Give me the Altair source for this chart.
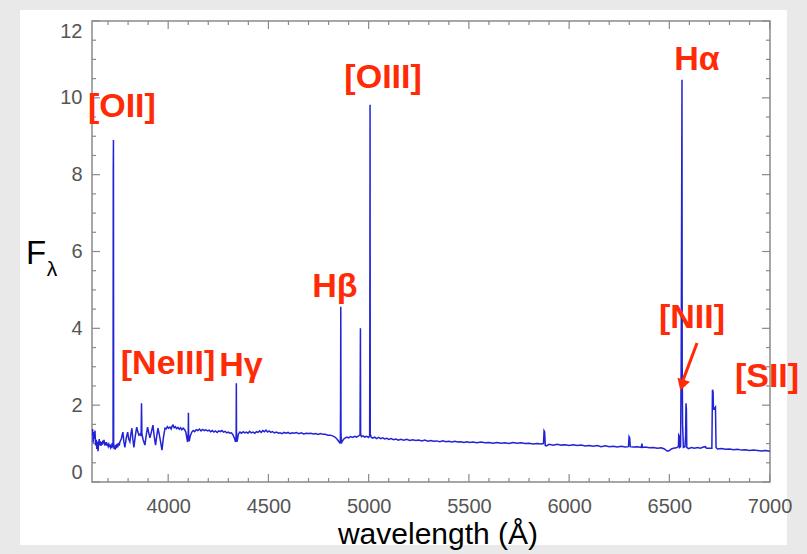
import altair as alt
import pandas as pd

# ---- spectrum (wavelength in Angstrom, flux F_lambda) ----
wavelength = [
    3620, 3623, 3626, 3629, 3632, 3635, 3638, 3641, 3644, 3647, 3650, 3653, 3656, 3659,
    3662, 3665, 3668, 3671, 3674, 3677, 3680, 3683, 3686, 3689, 3692, 3695, 3698, 3701,
    3704, 3707, 3710, 3713, 3716, 3719, 3722, 3725, 3726, 3727, 3728, 3730, 3733, 3736,
    3739, 3742, 3745, 3748, 3752, 3756, 3759, 3766, 3774, 3779, 3784, 3791, 3798, 3803,
    3809, 3814, 3819, 3824, 3829, 3836, 3843, 3849, 3854, 3860, 3865, 3867, 3869, 3875,
    3884, 3890, 3897, 3903, 3909, 3916, 3924, 3930, 3937, 3943, 3949, 3955, 3962, 3969,
    3976, 3984, 3990, 3996, 4002, 4009, 4015, 4020, 4024, 4030, 4036, 4042, 4049, 4055,
    4062, 4068, 4075, 4082, 4088, 4093, 4097, 4100, 4101, 4102, 4105, 4110, 4118, 4125,
    4132, 4140, 4148, 4156, 4164, 4172, 4180, 4188, 4196, 4204, 4212, 4220, 4228, 4236,
    4244, 4252, 4260, 4268, 4276, 4284, 4292, 4300, 4308, 4316, 4324, 4332, 4336, 4339,
    4340, 4341, 4344, 4350, 4358, 4366, 4374, 4382, 4390, 4398, 4406, 4414, 4423, 4432,
    4440, 4448, 4456, 4464, 4472, 4480, 4488, 4496, 4504, 4512, 4520, 4530, 4540, 4550,
    4558, 4568, 4578, 4588, 4598, 4608, 4618, 4628, 4640, 4652, 4664, 4676, 4688, 4700,
    4712, 4724, 4736, 4748, 4760, 4772, 4784, 4796, 4808, 4820, 4832, 4842, 4850, 4856,
    4859, 4860, 4861, 4862, 4864, 4868, 4876, 4884, 4892, 4900, 4910, 4920, 4930, 4940,
    4950, 4957, 4958, 4959, 4960, 4964, 4972, 4980, 4990, 5000, 5005, 5006, 5007, 5008,
    5012, 5020, 5030, 5040, 5050, 5060, 5070, 5080, 5090, 5100, 5112, 5124, 5136, 5148,
    5160, 5175, 5190, 5205, 5220, 5235, 5250, 5265, 5280, 5295, 5310, 5325, 5340, 5355,
    5370, 5385, 5400, 5415, 5430, 5445, 5460, 5475, 5490, 5505, 5520, 5540, 5560, 5580,
    5600, 5620, 5640, 5660, 5680, 5700, 5720, 5740, 5760, 5780, 5800, 5820, 5840, 5860,
    5872, 5875, 5878, 5881, 5886, 5900, 5920, 5940, 5960, 5980, 6000, 6020, 6040, 6060,
    6080, 6100, 6120, 6140, 6160, 6180, 6200, 6220, 6240, 6260, 6280, 6296, 6299, 6302,
    6305, 6320, 6340, 6360, 6363, 6366, 6380, 6400, 6420, 6440, 6460, 6475, 6490, 6500,
    6510, 6520, 6535, 6545, 6547, 6549, 6551, 6556, 6559, 6562, 6563, 6564, 6566, 6570,
    6578, 6581, 6583, 6585, 6587, 6595, 6610, 6625, 6640, 6655, 6670, 6680, 6685, 6700,
    6712, 6715, 6718, 6720, 6726, 6730, 6733, 6740, 6760, 6780, 6800, 6820, 6840, 6860,
    6880, 6900, 6920, 6940, 6960, 6980, 7002,
]
flux = [
    1.22, 1.38, 1.02, 1.30, 1.12, 1.34, 0.95, 1.10, 0.86, 1.05, 0.80, 0.98, 1.12, 0.96,
    1.06, 0.94, 1.04, 0.97, 1.08, 1.00, 1.10, 0.95, 1.03, 0.96, 1.04, 0.94, 1.00, 0.93,
    0.98, 0.91, 0.97, 0.90, 0.95, 0.88, 0.96, 0.92, 8.13, 8.90, 1.02, 0.86, 0.95, 0.84,
    0.97, 0.88, 0.99, 0.90, 1.02, 0.95, 1.04, 1.12, 1.30, 1.05, 0.90, 1.15, 1.30, 1.12,
    1.05, 1.25, 1.40, 1.10, 0.90, 1.20, 1.43, 1.30, 1.22, 1.25, 1.20, 2.05, 1.25, 1.10,
    0.96, 1.20, 1.43, 1.28, 1.15, 1.30, 1.48, 1.20, 0.96, 1.20, 1.40, 1.25, 1.05, 0.83,
    1.15, 1.40, 1.38, 1.44, 1.40, 1.43, 1.38, 1.46, 1.48, 1.41, 1.44, 1.39, 1.42, 1.37,
    1.41, 1.36, 1.40, 1.36, 1.30, 1.15, 1.04, 1.30, 1.80, 1.20, 1.06, 1.20, 1.30, 1.34,
    1.31, 1.36, 1.34, 1.38, 1.33, 1.37, 1.34, 1.36, 1.33, 1.35, 1.31, 1.34, 1.30, 1.33,
    1.29, 1.33, 1.31, 1.34, 1.30, 1.32, 1.28, 1.30, 1.27, 1.28, 1.22, 1.12, 1.04, 1.20,
    2.57, 1.10, 1.05, 1.25, 1.30, 1.27, 1.31, 1.28, 1.30, 1.27, 1.32, 1.28, 1.30, 1.27,
    1.31, 1.29, 1.33, 1.29, 1.34, 1.31, 1.35, 1.30, 1.33, 1.29, 1.31, 1.28, 1.30, 1.27,
    1.28, 1.26, 1.29, 1.27, 1.29, 1.26, 1.28, 1.27, 1.29, 1.26, 1.28, 1.25, 1.27, 1.26,
    1.27, 1.25, 1.26, 1.24, 1.26, 1.24, 1.24, 1.22, 1.22, 1.20, 1.17, 1.12, 1.06, 1.02,
    1.10, 2.30, 4.56, 1.30, 1.00, 1.06, 1.12, 1.15, 1.17, 1.15, 1.18, 1.16, 1.19, 1.17,
    1.20, 1.22, 2.60, 4.00, 1.25, 1.18, 1.20, 1.17, 1.19, 1.16, 1.20, 4.40, 9.82, 1.25,
    1.17, 1.14, 1.17, 1.13, 1.16, 1.13, 1.15, 1.12, 1.14, 1.11, 1.13, 1.10, 1.12, 1.09,
    1.11, 1.09, 1.11, 1.08, 1.10, 1.08, 1.09, 1.07, 1.09, 1.06, 1.08, 1.06, 1.07, 1.05,
    1.07, 1.05, 1.06, 1.04, 1.06, 1.04, 1.05, 1.03, 1.05, 1.03, 1.04, 1.02, 1.04, 1.02,
    1.03, 1.01, 1.03, 1.01, 1.02, 1.00, 1.03, 1.01, 1.02, 1.00, 1.01, 0.99, 1.00, 0.99,
    1.00, 1.33, 1.30, 0.95, 0.94, 0.98, 0.96, 0.98, 0.96, 0.97, 0.95, 0.97, 0.95, 0.96,
    0.94, 0.95, 0.93, 0.95, 0.92, 0.94, 0.92, 0.93, 0.91, 0.93, 0.91, 0.92, 1.18, 1.15,
    0.92, 0.91, 0.92, 0.90, 1.00, 0.90, 0.91, 0.89, 0.90, 0.88, 0.89, 0.86, 0.80, 0.82,
    0.86, 0.88, 0.89, 0.92, 1.22, 1.20, 0.90, 0.92, 3.18, 8.57, 10.47, 3.10, 1.50, 0.90,
    0.92, 1.20, 2.05, 1.90, 0.90, 0.87, 0.90, 0.88, 0.90, 0.88, 0.91, 0.92, 0.88, 0.88,
    0.88, 2.40, 2.35, 1.90, 1.92, 1.95, 0.90, 0.86, 0.87, 0.85, 0.86, 0.84, 0.85, 0.83,
    0.84, 0.82, 0.83, 0.82, 0.81, 0.82, 0.80,
]

# ---- axis ticks ----
x_major = [4000, 4500, 5000, 5500, 6000, 6500, 7000]
x_minor = [3700, 3800, 3900, 4100, 4200, 4300, 4400, 4600, 4700, 4800, 4900,
           5100, 5200, 5300, 5400, 5600, 5700, 5800, 5900, 6100, 6200, 6300, 6400,
           6600, 6700, 6800, 6900]
y_major = [0, 2, 4, 6, 8, 10, 12]
y_minor = [0.5, 1, 1.5, 2.5, 3, 3.5, 4.5, 5, 5.5, 6.5, 7, 7.5, 8.5, 9, 9.5,
           10.5, 11, 11.5]

# ---- line annotations ----
line_labels = ["[OII]", "[OIII]", "Hα", "Hβ", "[NeIII]", "Hγ", "[NII]", "[SII]"]
label_wl = [3769, 5072, 6638, 4832, 3999, 4363, 6613, 6987]
label_fx = [9.76, 10.52, 10.98, 5.08, 3.07, 3.02, 4.27, 2.73]

arrow_from = [6638, 3.62]
arrow_to = [6566, 2.62]
arrow_head = [6563, 2.52]

W, H = 678, 461
RED = "#ff2a06"
BLUE = "#2323d6"
GREY = "#8a8a8a"
FONT = "Liberation Sans"

xscale = alt.Scale(domain=[3620, 7002], nice=False, zero=False)
yscale = alt.Scale(domain=[0, 12], nice=False, zero=False)
xaxis = alt.Axis(values=x_major, format="d", ticks=False, tickSize=0, domain=False,
                 grid=False, title=None, labelPadding=14, labelFlush=False,
                 labelFontSize=20, labelColor="#555555", labelFont=FONT, zindex=1)
yaxis = alt.Axis(values=y_major, format="d", ticks=False, tickSize=0, domain=False,
                 grid=False, title=None, labelPadding=10, labelFlush=True,
                 labelFontSize=20, labelColor="#555555", labelFont=FONT, zindex=1)


def X(field="wavelength:Q"):
    return alt.X(field, scale=xscale, axis=xaxis)


def Y(field="flux:Q"):
    return alt.Y(field, scale=yscale, axis=yaxis)


spec = pd.DataFrame({"wavelength": wavelength, "flux": flux})
one = pd.DataFrame({"k": [0]})
labels_df = pd.DataFrame({"wavelength": label_wl, "flux": label_fx, "label": line_labels})
xmaj_df = pd.DataFrame({"wavelength": x_major})
xmin_df = pd.DataFrame({"wavelength": x_minor})
ymaj_df = pd.DataFrame({"flux": y_major})
ymin_df = pd.DataFrame({"flux": y_minor})
arrow_df = pd.DataFrame({"wavelength": [arrow_from[0]], "flux": [arrow_from[1]],
                         "wavelength2": [arrow_to[0]], "flux2": [arrow_to[1]]})
head_df = pd.DataFrame({"wavelength": [arrow_head[0]], "flux": [arrow_head[1]]})

panel = alt.Chart(one).mark_rect(color="white", clip=False).encode(
    x=alt.value(-72), x2=alt.value(695), y=alt.value(-11), y2=alt.value(524)
)

frame = alt.Chart(one).mark_rect(fill=None, stroke=GREY, strokeWidth=1.5, clip=False).encode(
    x=alt.value(0), x2=alt.value(W), y=alt.value(0), y2=alt.value(H)
)

spectrum = alt.Chart(spec).mark_line(color=BLUE, strokeWidth=1.5, clip=True).encode(
    x=X(), y=Y(), order="wavelength:Q",
)


def xticks(df, length):
    bottom = alt.Chart(df).mark_rule(color=GREY, strokeWidth=1.2).encode(
        x=X(), y=alt.value(H), y2=alt.value(H - length))
    top = alt.Chart(df).mark_rule(color=GREY, strokeWidth=1.2).encode(
        x=X(), y=alt.value(0), y2=alt.value(length))
    return [bottom, top]


def yticks(df, length):
    left = alt.Chart(df).mark_rule(color=GREY, strokeWidth=1.2).encode(
        y=Y(), x=alt.value(0), x2=alt.value(length))
    right = alt.Chart(df).mark_rule(color=GREY, strokeWidth=1.2).encode(
        y=Y(), x=alt.value(W), x2=alt.value(W - length))
    return [left, right]


tick_layers = xticks(xmaj_df, 8) + xticks(xmin_df, 4) + yticks(ymaj_df, 8) + yticks(ymin_df, 4)

annot = alt.Chart(labels_df).mark_text(
    color=RED, font=FONT, fontWeight="bold", fontSize=34, align="center",
    baseline="middle", clip=False
).encode(x=X(), y=Y(), text="label:N")

arrow = alt.Chart(arrow_df).mark_rule(color=RED, strokeWidth=3).encode(
    x=X(), y=Y(), x2="wavelength2:Q", y2="flux2:Q",
)
head = alt.Chart(head_df).mark_point(
    shape="triangle-down", filled=True, color=RED, opacity=1, size=170, angle=18
).encode(x=X(), y=Y())

xtitle = alt.Chart(one).mark_text(
    text="wavelength (Å)", font=FONT, fontSize=30, color="black",
    align="center", baseline="middle", clip=False
).encode(x=alt.value(346), y=alt.value(514))

ytitle_f = alt.Chart(one).mark_text(
    text="F", font=FONT, fontSize=33, color="black", align="center", baseline="middle"
).encode(x=alt.value(-56), y=alt.value(233))
ytitle_l = alt.Chart(one).mark_text(
    text="λ", font=FONT, fontSize=21, color="black", align="center", baseline="middle"
).encode(x=alt.value(-40), y=alt.value(249))

chart = alt.layer(
    panel, frame, *tick_layers, spectrum, annot, arrow, head, xtitle, ytitle_f, ytitle_l
).properties(
    width=W, height=H,
    autosize=alt.AutoSizeParams(type="none"),
    padding={"left": 92, "top": 21, "right": 37, "bottom": 72},
    background="#e9e9e9",
).configure_view(stroke=None, fill=None)

chart.save("out.html", embed_options={"renderer": "svg", "actions": False})
